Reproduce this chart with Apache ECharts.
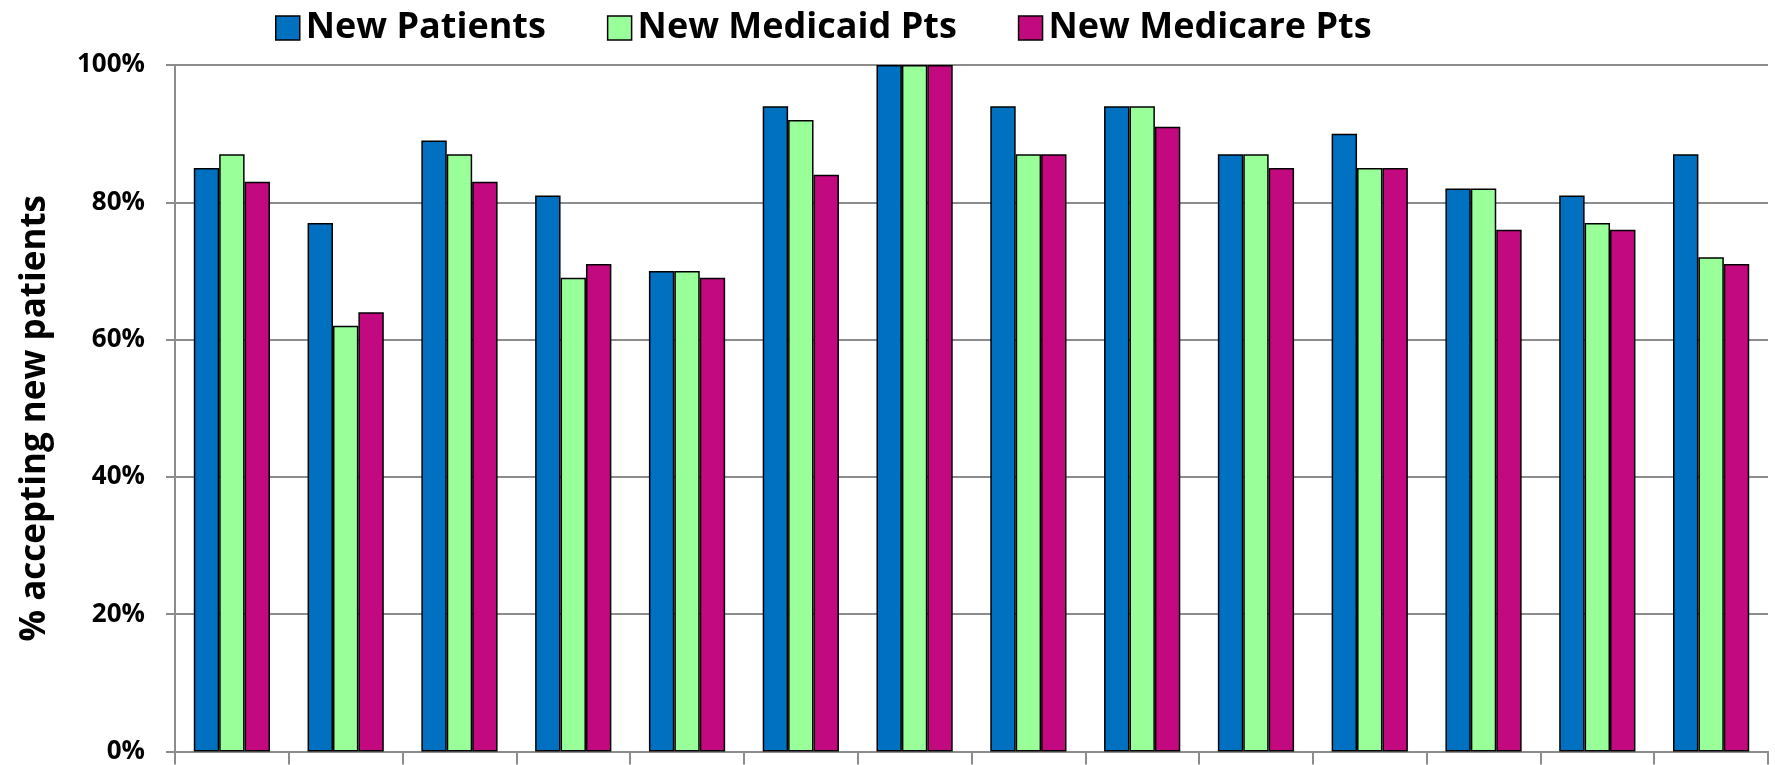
<!DOCTYPE html>
<html>
<head>
<meta charset="utf-8">
<script src="https://cdn.jsdelivr.net/npm/echarts@6/dist/echarts.min.js"></script>
<style>
html,body{margin:0;padding:0;background:#fff;}
#chart{width:1775px;height:765px;}
</style>
</head>
<body>
<div id="chart"></div>
<script>
const categories = ['1','2','3','4','5','6','7','8','9','10','11','12','13','14'];
const seriesNames = ['New Patients','New Medicaid Pts','New Medicare Pts'];
const newPatients = [85,77,89,81,70,94,100,94,94,87,90,82,81,87];
const newMedicaid = [87,62,87,69,70,92,100,87,94,87,85,82,77,72];
const newMedicare = [83,64,83,71,69,84,100,87,91,85,85,76,76,71];
const yTicks = [0,20,40,60,80,100];
const colors = ['#0070C0','#99FF99','#C3097F'];

const FONT = 'Open Sans';
const chart = echarts.init(document.getElementById('chart'), null, {renderer:'canvas'});
const values = [newPatients, newMedicaid, newMedicare];
chart.setOption({
  animation:false,
  color: colors,
  legend:{
    left:270, top:5,
    itemWidth:24, itemHeight:24, itemGap:61,
    icon:'rect',
    itemStyle:{borderColor:'#000', borderWidth:1.5},
    textStyle:{fontFamily:FONT, fontWeight:'bold', fontSize:36, color:'#000', padding:[0,0,0,1]},
    data: seriesNames
  },
  grid:{left:175, right:7, top:65, bottom:13.5, containLabel:false},
  xAxis:{
    type:'category',
    data: categories,
    axisLine:{lineStyle:{color:'#8c8c8c', width:2}},
    axisTick:{show:true, length:13, lineStyle:{color:'#8c8c8c', width:2}},
    axisLabel:{show:false}
  },
  yAxis:{
    type:'value', min:0, max:100, interval:20,
    name:'% accepting new patients',
    nameLocation:'middle', nameGap:122, nameRotate:90,
    nameTextStyle:{fontFamily:FONT, fontWeight:'bold', fontSize:35, color:'#000', padding:[0,20,0,0]},
    axisLine:{show:true, lineStyle:{color:'#8c8c8c', width:2}},
    axisTick:{show:true, length:9, lineStyle:{color:'#8c8c8c', width:2}},
    axisLabel:{fontFamily:FONT, fontWeight:'bold', fontSize:26, color:'#000', margin:30,
      formatter: v => yTicks.includes(v) ? v + '%' : ''},
    splitLine:{show:true, lineStyle:{color:'#8c8c8c', width:2}}
  },
  series: seriesNames.map((n,i)=>({
    name:n, type:'bar', data: values[i],
    barGap:'0%', barCategoryGap:'33%',
    itemStyle:{color:colors[i], borderColor:'#000', borderWidth:1.5}
  }))
});
</script>
</body>
</html>
